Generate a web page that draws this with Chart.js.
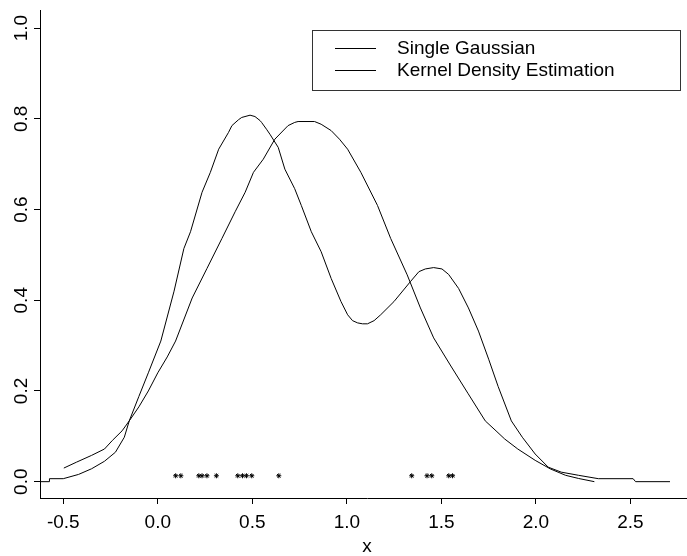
<!DOCTYPE html>
<html>
<head>
<meta charset="utf-8">
<script src="https://cdn.jsdelivr.net/npm/chart.js@4.4.1/dist/chart.umd.min.js"></script>
<style>
    html, body { margin: 0; padding: 0; background: #fff; overflow: hidden; }
    #chart { display: block; }
</style>
</head>
<body>
<canvas id="chart" width="699" height="556"></canvas>
<script>
// unimodal curve
const gaussX = [-0.497, -0.43, -0.35, -0.282, -0.24, -0.189, -0.151, -0.1, -0.05, 0.0, 0.05, 0.094, 0.182, 0.26, 0.339, 0.409, 0.462, 0.506, 0.558, 0.619, 0.689, 0.724, 0.742, 0.829, 0.864, 0.917, 0.961, 1.004, 1.074, 1.162, 1.232, 1.319, 1.389, 1.459, 1.55, 1.64, 1.732, 1.789, 1.835, 1.904, 1.996, 2.077, 2.157, 2.226, 2.309];
const gaussY = [0.03, 0.043, 0.058, 0.072, 0.091, 0.112, 0.134, 0.165, 0.2, 0.24, 0.275, 0.31, 0.405, 0.47, 0.536, 0.595, 0.638, 0.682, 0.711, 0.755, 0.785, 0.792, 0.794, 0.794, 0.788, 0.774, 0.755, 0.733, 0.682, 0.609, 0.536, 0.456, 0.383, 0.317, 0.255, 0.195, 0.134, 0.112, 0.094, 0.072, 0.047, 0.028, 0.014, 0.007, 0.0];

// bimodal curve
const kdeX = [-0.62, -0.573, -0.573, -0.5, -0.419, -0.35, -0.282, -0.224, -0.177, -0.151, -0.1, -0.05, 0.016, 0.086, 0.138, 0.173, 0.234, 0.278, 0.322, 0.374, 0.392, 0.427, 0.444, 0.488, 0.514, 0.541, 0.549, 0.575, 0.593, 0.637, 0.672, 0.724, 0.759, 0.812, 0.864, 0.917, 0.969, 1.004, 1.03, 1.057, 1.083, 1.109, 1.144, 1.179, 1.249, 1.336, 1.381, 1.415, 1.459, 1.503, 1.538, 1.591, 1.643, 1.696, 1.75, 1.8, 1.87, 1.928, 1.996, 2.065, 2.134, 2.226, 2.33, 2.514, 2.527, 2.709];
const kdeY = [0.0, 0.0, 0.0066, 0.0066, 0.016, 0.0285, 0.045, 0.065, 0.098, 0.134, 0.188, 0.24, 0.31, 0.42, 0.514, 0.551, 0.638, 0.682, 0.733, 0.77, 0.785, 0.798, 0.803, 0.808, 0.805, 0.796, 0.792, 0.777, 0.766, 0.737, 0.689, 0.646, 0.609, 0.551, 0.507, 0.448, 0.397, 0.368, 0.355, 0.35, 0.348, 0.348, 0.355, 0.368, 0.397, 0.441, 0.463, 0.469, 0.472, 0.469, 0.457, 0.426, 0.383, 0.332, 0.27, 0.21, 0.134, 0.098, 0.061, 0.032, 0.021, 0.014, 0.0066, 0.0066, 0.0, 0.0];

// observed samples drawn as stars
const sampleX = [0.0945, 0.122, 0.217, 0.234, 0.26, 0.31, 0.423, 0.448, 0.469, 0.497, 0.64, 1.343, 1.424, 1.449, 1.539, 1.559];
const sampleY = [0.013, 0.013, 0.013, 0.013, 0.013, 0.013, 0.013, 0.013, 0.013, 0.013, 0.013, 0.013, 0.013, 0.013, 0.013, 0.013];

const xTicks = [-0.5, 0.0, 0.5, 1.0, 1.5, 2.0, 2.5];
const yTicks = [0.0, 0.2, 0.4, 0.6, 0.8, 1.0];
const seriesNames = ['Single Gaussian', 'Kernel Density Estimation'];

const FONT = '"Liberation Sans", Arial, sans-serif';

const toPoints = (xs, ys) => xs.map((x, i) => ({ x: x, y: ys[i] }));

// legend box in the top right, drawn like the R one
const boxLegend = {
    id: 'boxLegend',
    afterDraw(chart) {
        const ctx = chart.ctx;
        ctx.save();
        ctx.strokeStyle = '#333';
        ctx.lineWidth = 1;
        ctx.strokeRect(312.5, 30.5, 368, 60);
        ctx.font = '19px ' + FONT;
        ctx.fillStyle = '#000';
        ctx.textBaseline = 'middle';
        const rows = [48.5, 70.5];
        seriesNames.forEach((name, i) => {
            ctx.strokeStyle = '#000';
            ctx.beginPath();
            ctx.moveTo(335, rows[i]);
            ctx.lineTo(376, rows[i]);
            ctx.stroke();
            ctx.fillText(name, 397, rows[i]);
        });
        ctx.restore();
    }
};

new Chart(document.getElementById('chart'), {
    type: 'scatter',
    data: {
        datasets: [
            {
                label: seriesNames[0],
                data: toPoints(gaussX, gaussY),
                showLine: true,
                borderColor: '#000',
                borderWidth: 1,
                pointRadius: 0,
                tension: 0
            },
            {
                label: seriesNames[1],
                data: toPoints(kdeX, kdeY),
                showLine: true,
                borderColor: '#000',
                borderWidth: 1,
                pointRadius: 0,
                tension: 0
            },
            {
                label: 'samples',
                data: toPoints(sampleX, sampleY),
                showLine: false,
                pointStyle: 'star',
                pointRadius: 2.5,
                borderColor: '#000',
                borderWidth: 1,
                backgroundColor: '#000'
            }
        ]
    },
    options: {
        responsive: false,
        animation: false,
        devicePixelRatio: 1,
        layout: { padding: { top: 7, left: 0, right: 0, bottom: 0 } },
        plugins: {
            legend: { display: false },
            tooltip: { enabled: false }
        },
        scales: {
            x: {
                type: 'linear',
                min: -0.623,
                max: 2.836,
                afterBuildTicks: scale => { scale.ticks = xTicks.map(v => ({ value: v })); },
                afterFit: scale => { scale.height = 58; },
                grid: { display: true, drawOnChartArea: false, drawTicks: true, tickLength: 6, color: '#000' },
                border: { display: true, color: '#000', width: 1 },
                ticks: {
                    color: '#000',
                    font: { family: FONT, size: 19 },
                    padding: 7,
                    maxRotation: 0,
                    autoSkip: false,
                    callback: v => v.toFixed(1)
                },
                title: {
                    display: true,
                    text: 'x',
                    color: '#000',
                    font: { family: FONT, size: 19, lineHeight: 1 },
                    padding: { top: 0, bottom: 0 }
                }
            },
            y: {
                type: 'linear',
                min: -0.036,
                max: 1.039,
                afterBuildTicks: scale => { scale.ticks = yTicks.map(v => ({ value: v })); },
                afterFit: scale => { scale.width = 40; },
                grid: { display: true, drawOnChartArea: false, drawTicks: true, tickLength: 6, color: '#000' },
                border: { display: true, color: '#000', width: 1 },
                ticks: {
                    color: '#000',
                    font: { family: FONT, size: 19 },
                    padding: -1,
                    minRotation: 90,
                    maxRotation: 90,
                    crossAlign: 'center',
                    autoSkip: false,
                    callback: v => v.toFixed(1)
                }
            }
        }
    },
    plugins: [boxLegend]
});
</script>
</body>
</html>
